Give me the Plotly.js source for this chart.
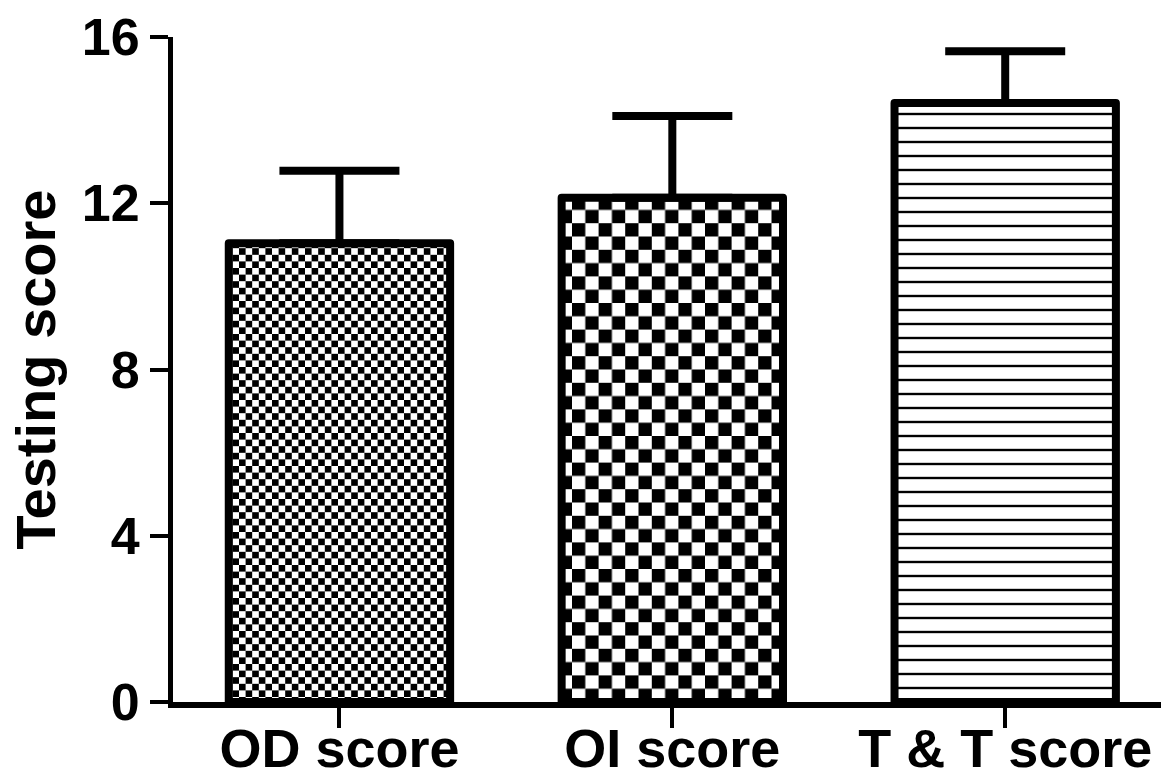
<!DOCTYPE html>
<html>
<head>
<meta charset="utf-8">
<script src="https://cdn.plot.ly/plotly-3.0.1.min.js"></script>
<style>
  html, body { margin: 0; padding: 0; background: #fff; }
  #chart { width: 1161px; height: 778px; }
</style>
</head>
<body>
<div id="chart"></div>
<script>
// ---- data ----
const categories = ['OD score', 'OI score', 'T & T score'];
const meanScores = [11.04, 12.13, 14.41];
const sdUpper = [1.74, 1.97, 1.25];
const yTickValues = [0, 4, 8, 12, 16];
const yTickLabels = ['0', '4', '8', '12', '16'];

// pattern styles per bar (checker cell sizes in px; 0 = use lines)
const checkerCells = [6.6, 13.3, 0];

const FONT = 'Liberation Sans, Arial, Helvetica, sans-serif';

const trace = {
  type: 'bar',
  x: categories,
  y: meanScores,
  width: 0.665,
  marker: {
    color: '#ffffff',
    line: { color: '#000000', width: 8 },
    pattern: {
      shape: ['.', '.', '-'],
      size: [13, 27, 14],
      solidity: [0.5, 0.5, 0.17],
      fgcolor: '#000000',
      bgcolor: '#ffffff',
      fillmode: 'replace'
    }
  },
  error_y: {
    type: 'data',
    symmetric: false,
    array: sdUpper,
    arrayminus: [0, 0, 0],
    color: '#000000',
    thickness: 8,
    width: 60
  },
  hoverinfo: 'skip'
};

const layout = {
  width: 1161,
  height: 778,
  margin: { l: 173, r: 0, t: 37, b: 76, pad: 0 },
  paper_bgcolor: '#ffffff',
  plot_bgcolor: '#ffffff',
  showlegend: false,
  font: { family: FONT, color: '#000000', weight: 'bold' },
  xaxis: {
    type: 'category',
    range: [-0.5, 2.468],
    showline: true,
    linecolor: '#000000',
    linewidth: 6,
    ticks: 'outside',
    ticklen: 20,
    tickwidth: 4,
    tickcolor: '#000000',
    showgrid: false,
    zeroline: false,
    ticklabelstandoff: -26,
    tickfont: { family: FONT, size: 54, color: '#000000', weight: 'bold' }
  },
  yaxis: {
    range: [0, 16],
    tickmode: 'array',
    tickvals: yTickValues,
    ticktext: yTickLabels,
    showline: true,
    linecolor: '#000000',
    linewidth: 5,
    ticks: 'outside',
    ticklen: 18,
    tickwidth: 4,
    tickcolor: '#000000',
    showgrid: false,
    zeroline: false,
    tickfont: { family: FONT, size: 52, color: '#000000', weight: 'bold' },
    title: { text: 'Testing score', font: { family: FONT, size: 56, color: '#000000', weight: 'bold' }, standoff: 10 }
  }
};

function applyCheckers(gd) {
  const NS = 'http://www.w3.org/2000/svg';
  const paths = gd.querySelectorAll('.barlayer .point path');
  paths.forEach((p, i) => {
    p.style.strokeLinejoin = 'round';
    const cell = checkerCells[i];
    if (!cell) return;
    const fill = p.style.fill || p.getAttribute('fill') || '';
    const m = fill.match(/#([^"')]+)/);
    if (!m) return;
    const pat = document.getElementById(m[1]);
    if (!pat) return;
    const tile = cell * 2;
    pat.setAttribute('width', tile);
    pat.setAttribute('height', tile);
    pat.setAttribute('patternUnits', 'userSpaceOnUse');
    while (pat.firstChild) pat.removeChild(pat.firstChild);
    const mk = (x, y, w, h, c) => {
      const r = document.createElementNS(NS, 'rect');
      r.setAttribute('x', x); r.setAttribute('y', y);
      r.setAttribute('width', w); r.setAttribute('height', h);
      r.setAttribute('fill', c);
      pat.appendChild(r);
    };
    mk(0, 0, tile, tile, '#ffffff');
    mk(0, 0, cell, cell, '#000000');
    mk(cell, cell, cell, cell, '#000000');
  });
}

Plotly.newPlot('chart', [trace], layout, { displayModeBar: false, staticPlot: true }).then(gd => {
  applyCheckers(gd);
});
</script>
</body>
</html>
